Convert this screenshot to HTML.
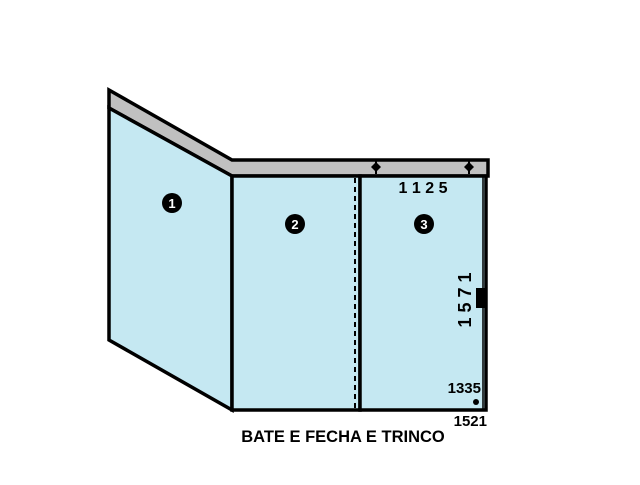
<!DOCTYPE html>
<html><head><meta charset="utf-8"><style>
body{margin:0;background:#fff;width:640px;height:480px;overflow:hidden}
text{font-family:"Liberation Sans",Arial,sans-serif;font-weight:bold}
</style></head><body>
<svg width="640" height="480" viewBox="0 0 640 480" xmlns="http://www.w3.org/2000/svg">
<polygon points="109,90 232,160 488,160 488,176 232,176 109,108" fill="#c0c0c0" stroke="#000" stroke-width="3.5" stroke-linejoin="miter"/>
<polygon points="109,108 232,176 232,410 109,340" fill="#c5e8f2" stroke="#000" stroke-width="3.5"/>
<rect x="232" y="176" width="128" height="234" fill="#c5e8f2" stroke="#000" stroke-width="3.5"/>
<rect x="360" y="176" width="126" height="234" fill="#c5e8f2" stroke="#000" stroke-width="3.5"/>
<line x1="483" y1="176" x2="483" y2="410" stroke="#000" stroke-width="1.5"/>
<line x1="355" y1="178" x2="355" y2="408" stroke="#000" stroke-width="2" stroke-dasharray="5,4"/>
<g fill="#000">
<polygon points="376,162 381,167 376,172 371,167"/><rect x="375" y="160" width="2" height="14"/>
<polygon points="469,162 474,167 469,172 464,167"/><rect x="468" y="160" width="2" height="14"/>
</g>
<g>
<circle cx="172" cy="203" r="10" fill="#000"/><text x="172" y="208" font-size="13" fill="#fff" text-anchor="middle">1</text>
<circle cx="295" cy="224" r="10" fill="#000"/><text x="295" y="229" font-size="13" fill="#fff" text-anchor="middle">2</text>
<circle cx="424" cy="224" r="10" fill="#000"/><text x="424" y="229" font-size="13" fill="#fff" text-anchor="middle">3</text>
</g>
<text x="423" y="193" font-size="16" text-anchor="middle">1 1 2 5</text>
<text x="0" y="0" font-size="18" font-weight="normal" text-anchor="middle" transform="translate(471,300) rotate(-90)">1 5 7 1</text>
<rect x="476" y="288" width="10" height="20" fill="#000"/>
<circle cx="476" cy="402" r="3" fill="#000"/>
<text x="481" y="393" font-size="15" text-anchor="end">1335</text>
<text x="487" y="426" font-size="15" text-anchor="end">1521</text>
<text x="343" y="442" font-size="16.5" text-anchor="middle">BATE E FECHA E TRINCO</text>
</svg>
</body></html>
